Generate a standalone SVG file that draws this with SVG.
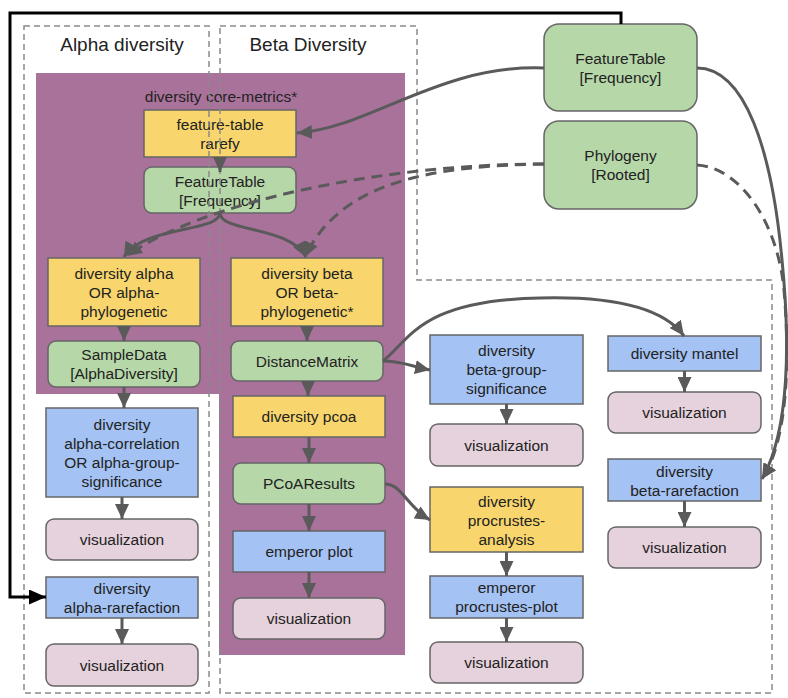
<svg xmlns="http://www.w3.org/2000/svg" width="788" height="698" viewBox="0 0 788 698">
<style>
text{font-family:"Liberation Sans",Arial,sans-serif;font-size:15.5px;fill:#222;text-anchor:middle}
.title{font-size:19px}
.nb{stroke:#666;stroke-width:1.5}
.y{fill:#f8d66d}
.g{fill:#b6d7a8}
.b{fill:#a4c2f4}
.p{fill:#e6d2dc}
.zone{fill:none;stroke:#8a8a8a;stroke-width:1.5;stroke-dasharray:6 4}
.e{fill:none;stroke:#5a5a5a;stroke-width:3;marker-end:url(#ah)}
.d{stroke-dasharray:11 7}
</style>
<defs>
<marker id="ah" markerUnits="userSpaceOnUse" markerWidth="15" markerHeight="14" viewBox="0 0 15 14" refX="15" refY="7" orient="auto"><path d="M0,0 L15,7 L0,14 z" fill="#5a5a5a"/></marker>
<marker id="ahk" markerUnits="userSpaceOnUse" markerWidth="17" markerHeight="15" viewBox="0 0 17 15" refX="17" refY="7.5" orient="auto"><path d="M0,0 L17,7.5 L0,15 z" fill="#000"/></marker>
</defs>
<rect width="788" height="698" fill="#fff"/>
<path id="core-metrics-area" d="M36,73 H405 V655 H219 V394 H36 Z" fill="#a9729b"/>
<text x="221" y="102">diversity core-metrics*</text>
<text class="title" x="122" y="51">Alpha diversity</text>
<text class="title" x="308" y="51">Beta Diversity</text>

<g id="nodes">
<g id="n-rarefy"><rect class="nb y" x="144" y="110" width="152" height="47"/><text x="220" y="129.5">feature-table</text><text x="220" y="148.5">rarefy</text></g>
<g id="n-ft-inner"><rect class="nb g" x="144" y="167" width="152" height="46" rx="8"/><text x="220" y="186.5">FeatureTable</text><text x="220" y="205.5">[Frequency]</text></g>
<g id="n-alpha"><rect class="nb y" x="48" y="258" width="152" height="68"/><text x="124" y="278.5">diversity alpha</text><text x="124" y="297.5">OR alpha-</text><text x="124" y="316.5">phylogenetic</text></g>
<g id="n-sampledata"><rect class="nb g" x="48" y="341" width="152" height="46" rx="8"/><text x="124" y="360">SampleData</text><text x="124" y="379">[AlphaDiversity]</text></g>
<g id="n-beta"><rect class="nb y" x="231" y="258" width="152" height="68"/><text x="307" y="278.5">diversity beta</text><text x="307" y="297.5">OR beta-</text><text x="307" y="316.5">phylogenetic*</text></g>
<g id="n-distmatrix"><rect class="nb g" x="231" y="341" width="152" height="40" rx="8"/><text x="307" y="366.5">DistanceMatrix</text></g>
<g id="n-pcoa"><rect class="nb y" x="233" y="396" width="152" height="41"/><text x="309" y="422">diversity pcoa</text></g>
<g id="n-pcoaresults"><rect class="nb g" x="233" y="463" width="152" height="41" rx="8"/><text x="309" y="489">PCoAResults</text></g>
<g id="n-emperor"><rect class="nb b" x="233" y="531" width="152" height="41"/><text x="309" y="557">emperor plot</text></g>
<g id="n-vis-emperor"><rect class="nb p" x="233" y="598" width="152" height="41" rx="8"/><text x="309" y="624">visualization</text></g>
<g id="n-alphacorr"><rect class="nb b" x="46" y="408" width="152" height="89"/><text x="122" y="429.5">diversity</text><text x="122" y="448.5">alpha-correlation</text><text x="122" y="467.5">OR alpha-group-</text><text x="122" y="486.5">significance</text></g>
<g id="n-vis-alphacorr"><rect class="nb p" x="46" y="519" width="152" height="41" rx="8"/><text x="122" y="545">visualization</text></g>
<g id="n-alpharare"><rect class="nb b" x="46" y="577" width="152" height="41"/><text x="122" y="593.5">diversity</text><text x="122" y="612.5">alpha-rarefaction</text></g>
<g id="n-vis-alpharare"><rect class="nb p" x="46" y="644" width="152" height="42" rx="8"/><text x="122" y="670.5">visualization</text></g>
<g id="n-ft-top"><rect class="nb g" x="544" y="24" width="153" height="87" rx="15"/><text x="620.5" y="64">FeatureTable</text><text x="620.5" y="83">[Frequency]</text></g>
<g id="n-phylogeny"><rect class="nb g" x="544" y="121" width="153" height="88" rx="15"/><text x="620.5" y="161">Phylogeny</text><text x="620.5" y="180">[Rooted]</text></g>
<g id="n-bgs"><rect class="nb b" x="430" y="335" width="153" height="69"/><text x="506.5" y="356">diversity</text><text x="506.5" y="375">beta-group-</text><text x="506.5" y="394">significance</text></g>
<g id="n-vis-bgs"><rect class="nb p" x="430" y="424" width="153" height="42" rx="8"/><text x="506.5" y="450.5">visualization</text></g>
<g id="n-procrustes"><rect class="nb y" x="430" y="487" width="153" height="65"/><text x="506.5" y="506.5">diversity</text><text x="506.5" y="525.5">procrustes-</text><text x="506.5" y="544.5">analysis</text></g>
<g id="n-emp-procrustes"><rect class="nb b" x="430" y="576" width="153" height="42"/><text x="506.5" y="593">emperor</text><text x="506.5" y="612">procrustes-plot</text></g>
<g id="n-vis-procrustes"><rect class="nb p" x="430" y="642" width="153" height="41" rx="8"/><text x="506.5" y="668">visualization</text></g>
<g id="n-mantel"><rect class="nb b" x="608" y="336" width="153" height="35"/><text x="684.5" y="359">diversity mantel</text></g>
<g id="n-vis-mantel"><rect class="nb p" x="608" y="392" width="153" height="41" rx="8"/><text x="684.5" y="418">visualization</text></g>
<g id="n-betarare"><rect class="nb b" x="608" y="459" width="153" height="42"/><text x="684.5" y="476.5">diversity</text><text x="684.5" y="495.5">beta-rarefaction</text></g>
<g id="n-vis-betarare"><rect class="nb p" x="608" y="527" width="153" height="41" rx="8"/><text x="684.5" y="553">visualization</text></g>
</g>

<g id="zones">
<rect class="zone" x="24" y="26" width="185" height="667"/>
<path class="zone" d="M220,26 H417 V280 H772 V693 H220 Z"/>
</g>

<g id="connectors">
<path class="e" d="M220,157 V172"/>
<path class="e" d="M124,326 V341"/>
<path class="e" d="M124,387 V408"/>
<path class="e" d="M122,497 V519"/>
<path class="e" d="M122,618 V644"/>
<path class="e" d="M307,326 V341"/>
<path class="e" d="M308,381 V396"/>
<path class="e" d="M309,437 V463"/>
<path class="e" d="M309,504 V531"/>
<path class="e" d="M309,572 V598"/>
<path class="e" d="M506.5,404 V424"/>
<path class="e" d="M506.5,552 V576"/>
<path class="e" d="M506.5,618 V642"/>
<path class="e" d="M684.5,371 V392"/>
<path class="e" d="M684.5,501 V527"/>
<path class="e" d="M544,68 C440,64 370,128 297,133"/>
<path class="e" d="M220,213 C220,232 142,226 124,257"/>
<path class="e" d="M220,213 C220,232 290,226 306,257"/>
<path class="e d" d="M544,164 C380,164 200,203 127,256"/>
<path class="e d" d="M544,164 C430,166 340,182 305,257"/>
<path class="e" d="M383,361 C402,361 410,366 430,370"/>
<path class="e" d="M383,361 C410,340 420,300 540,298 C620,296 665,310 684,336"/>
<path class="e" d="M385,484 C402,484 406,506 430,520"/>
<path class="e" d="M697,68 C745,68 772,150 782,260 C790,340 790,430 762,479"/>
<path class="e d" d="M697,165 C742,168 778,225 784,290 C790,360 788,440 762,479"/>
<path d="M621,24 V13 H10 V597 H46" fill="none" stroke="#000" stroke-width="3" marker-end="url(#ahk)"/>
</g>
</svg>
